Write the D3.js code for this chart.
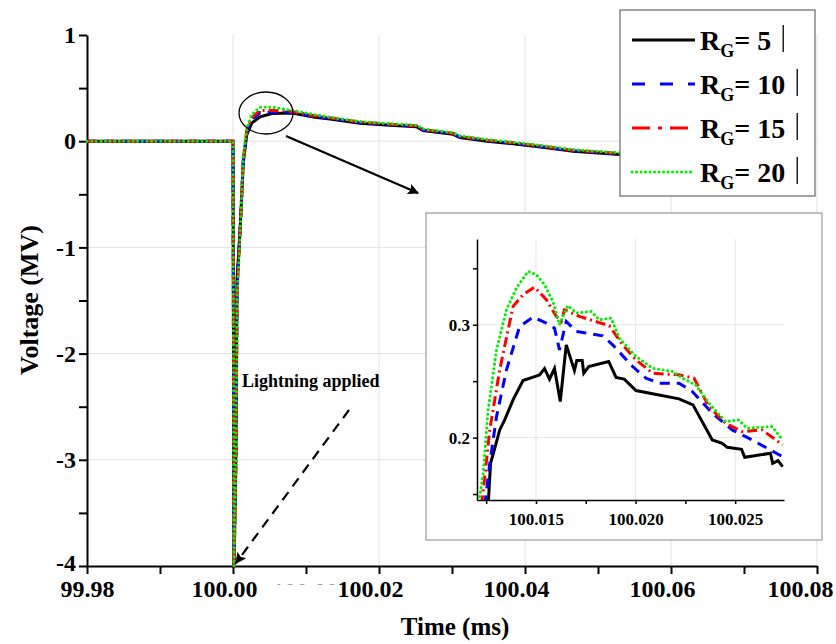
<!DOCTYPE html>
<html>
<head>
<meta charset="utf-8">
<script src="https://cdnjs.cloudflare.com/ajax/libs/d3/7.8.5/d3.min.js"></script>
<style>
    body { margin: 0; background: #fff; }
    svg text { font-family: "Liberation Serif", "Times New Roman", serif; font-weight: bold; }
    .grid line { stroke: #e2e2e2; stroke-width: 1; }
</style>
</head>
<body>
<div id="chart"></div>
<script>
// main curves (time in ms, voltage in MV)
const mainTime = [99.98, 100.0, 100.00014, 100.00041, 100.00055, 100.00096, 100.00141, 100.00188,
    100.00256, 100.0037, 100.00534, 100.00808, 100.01123, 100.01329, 100.0174, 100.02151,
    100.0252, 100.02603, 100.03014, 100.0311, 100.0348, 100.03836, 100.04301, 100.04658,
    100.05205, 100.05575];
const mainRG5 = [0, 0, -4, -2.9, -1.3, -0.85, -0.2, 0.06, 0.17, 0.23, 0.26, 0.265, 0.225, 0.21,
    0.17, 0.15, 0.135, 0.10, 0.065, 0.035, 0.0, -0.025, -0.062, -0.095, -0.12, -0.14];
const mainRG10 = [0, 0, -4, -2.95, -1.4, -0.85, -0.18, 0.08, 0.2, 0.27, 0.275, 0.27, 0.235, 0.215,
    0.175, 0.155, 0.14, 0.105, 0.07, 0.04, 0.005, -0.02, -0.057, -0.09, -0.115, -0.135];
const mainRG15 = [0, 0, -4, -3.0, -1.45, -0.87, -0.16, 0.1, 0.22, 0.29, 0.29, 0.28, 0.24, 0.22,
    0.18, 0.16, 0.145, 0.11, 0.075, 0.045, 0.01, -0.015, -0.052, -0.085, -0.11, -0.13];
const mainRG20 = [0, 0, -4, -3.0, -1.5, -0.9, -0.15, 0.12, 0.25, 0.32, 0.32, 0.29, 0.25, 0.225,
    0.185, 0.165, 0.15, 0.115, 0.08, 0.05, 0.015, -0.01, -0.047, -0.08, -0.105, -0.125];

// zoomed inset curves
const insetTimeRG5 = [100.0126, 100.01272, 100.01293, 100.01318, 100.01343, 100.01385, 100.01435,
    100.01493, 100.01518, 100.01543, 100.01568, 100.01593, 100.01622, 100.01652, 100.01693,
    100.01705, 100.01732, 100.0174, 100.01765, 100.01865, 100.01902, 100.01943, 100.02002,
    100.02085, 100.02218, 100.02288, 100.02385, 100.02435, 100.0246, 100.02532, 100.02548,
    100.02677, 100.02688, 100.02715, 100.02738];
const insetRG5 = [0.14, 0.1772, 0.1905, 0.2068, 0.2157, 0.2334, 0.2506, 0.2541, 0.2556, 0.2612,
    0.2518, 0.2612, 0.232, 0.2822, 0.2595, 0.2683, 0.2683, 0.2571, 0.263, 0.2675, 0.2533, 0.2518,
    0.2417, 0.2388, 0.2343, 0.229, 0.1979, 0.195, 0.1914, 0.1896, 0.1825, 0.1861, 0.1772, 0.1796,
    0.1743];
const insetTimeRG10 = [100.01243, 100.01268, 100.01302, 100.01352, 100.01418, 100.01485, 100.01552,
    100.01593, 100.01618, 100.01652, 100.01702, 100.01835, 100.01885, 100.01985, 100.02052,
    100.02118, 100.02218, 100.02285, 100.02385, 100.02485, 100.02585, 100.02738];
const insetRG10 = [0.14, 0.177, 0.2186, 0.2601, 0.2985, 0.3068, 0.3015, 0.297, 0.2778, 0.303,
    0.2941, 0.2902, 0.2822, 0.263, 0.2527, 0.2482, 0.2482, 0.2408, 0.2216, 0.2068, 0.1979, 0.1831];
const insetTimeRG15 = [100.01227, 100.01243, 100.01268, 100.01318, 100.01385, 100.01435, 100.01493,
    100.01552, 100.01602, 100.01627, 100.01643, 100.01718, 100.01868, 100.01935, 100.02002,
    100.02085, 100.02218, 100.02293, 100.02368, 100.02452, 100.02535, 100.02635, 100.02738];
const insetRG15 = [0.14, 0.1654, 0.2068, 0.2601, 0.3163, 0.3266, 0.3334, 0.3222, 0.3074, 0.303,
    0.3133, 0.3074, 0.2991, 0.2822, 0.2689, 0.2571, 0.2556, 0.2527, 0.2275, 0.2127, 0.2053, 0.2068,
    0.1935];
const insetTimeRG20 = [100.01218, 100.01235, 100.0126, 100.01302, 100.01352, 100.01402, 100.0146,
    100.01502, 100.01543, 100.01585, 100.01618, 100.01635, 100.0166, 100.01702, 100.01777,
    100.01818, 100.01877, 100.01918, 100.02002, 100.02085, 100.02185, 100.02235, 100.02302,
    100.02368, 100.02452, 100.02518, 100.0256, 100.02685, 100.02738];
const insetRG20 = [0.1476, 0.1683, 0.2246, 0.2778, 0.3133, 0.3325, 0.3473, 0.3444, 0.3355, 0.3207,
    0.3, 0.3074, 0.3169, 0.3104, 0.3118, 0.3044, 0.3059, 0.2882, 0.2719, 0.2615, 0.2586, 0.2527,
    0.2467, 0.2305, 0.2142, 0.2157, 0.2083, 0.2098, 0.1979];

const seriesNames = ["5", "10", "15", "20"];
const xTicks = [99.98, 99.99, 100.0, 100.01, 100.02, 100.03, 100.04, 100.05, 100.06, 100.07, 100.08];
const yTicks = [-4, -3.5, -3, -2.5, -2, -1.5, -1, -0.5, 0, 0.5, 1];
const insetXTicks = [100.0125, 100.015, 100.0175, 100.02, 100.0225, 100.025];
const insetYTicks = [0.15, 0.2, 0.25, 0.3, 0.35];

const styles = [
    { color: "#000000", dash: null, legendDash: null, cap: "butt" },
    { color: "#0000ff", dash: "10,7", legendDash: "13,15", cap: "butt" },
    { color: "#ff0000", dash: "10,4,2,4", legendDash: "18,8,4,8", cap: "butt" },
    { color: "#00ee00", dash: "0.1,4.5", legendDash: "0.1,4.4", cap: "round" }
];

function zip(xs, ys) {
    return xs.map((t, i) => ({ t: t, v: ys[i] }));
}

function drawChart() {
    const width = 836, height = 644;

    let svg = d3.select("#chart").
    append("svg").
    attr("width", width).
    attr("height", height);

    let x = d3.scaleLinear().domain([99.98, 100.08]).range([87, 817]);
    let y = d3.scaleLinear().domain([-4, 1]).range([566, 35]);

    // grid
    let grid = svg.append("g").attr("class", "grid");
    grid.selectAll(".gx").
    data(xTicks.filter((d, i) => i % 2 == 0 && i > 0)).
    enter().
    append("line").
    attr("x1", d => x(d)).attr("x2", d => x(d)).
    attr("y1", y(1)).attr("y2", y(-4));
    grid.selectAll(".gy").
    data([-3, -2, -1, 0]).
    enter().
    append("line").
    attr("x1", x(99.98)).attr("x2", x(100.08)).
    attr("y1", d => y(d)).attr("y2", d => y(d));

    // axes
    let xAxis = svg.append("g").
    attr("transform", "translate(0," + y(-4) + ")").
    call(d3.axisBottom(x).
    tickValues(xTicks).
    tickFormat((d, i) => i % 2 == 0 ? d.toFixed(2) : "").
    tickSize(8).
    tickSizeOuter(0));
    xAxis.selectAll("text").
    attr("font-size", 24).
    attr("fill", "#000").
    attr("dy", "0.82em").
    attr("dx", (d, i) => i == 0 ? 0 : (i == xTicks.length - 1 ? -17 : -9));

    let yAxis = svg.append("g").
    attr("transform", "translate(" + x(99.98) + ",0)").
    call(d3.axisLeft(y).
    tickValues(yTicks).
    tickFormat(d => Number.isInteger(d) ? d3.format("d")(d).replace("−", "-") : "").
    tickSize(8).
    tickSizeOuter(0));
    yAxis.selectAll("text").
    attr("font-size", 24).
    attr("fill", "#000").
    attr("dy", d => d == -4 ? "0.2em" : "0.32em");

    svg.selectAll(".domain, .tick line").
    attr("stroke", "#000").
    attr("stroke-width", 2);

    // ghost label behind axis
    svg.append("clipPath").attr("id", "ghost").
    append("rect").attr("x", 270).attr("y", 580).attr("width", 70).attr("height", 5);
    svg.append("text").
    attr("clip-path", "url(#ghost)").
    attr("x", 305).attr("y", 599).
    attr("text-anchor", "middle").
    attr("font-size", 24).
    attr("fill", "#999").
    text("100.00");

    svg.append("text").
    attr("x", 455).attr("y", 635).
    attr("text-anchor", "middle").
    attr("font-size", 25).
    text("Time (ms)");

    svg.append("text").
    attr("transform", "translate(38,300) rotate(-90)").
    attr("text-anchor", "middle").
    attr("font-size", 26).
    text("Voltage (MV)");

    // main curves
    let line = d3.line().x(d => x(d.t)).y(d => y(d.v));
    let mainSets = [mainRG5, mainRG10, mainRG15, mainRG20];
    mainSets.forEach((vals, i) => {
        svg.append("path").
        datum(zip(mainTime, vals)).
        attr("d", line).
        attr("fill", "none").
        attr("stroke", styles[i].color).
        attr("stroke-width", 3).
        attr("stroke-linecap", styles[i].cap).
        attr("stroke-dasharray", styles[i].dash);
    });

    // annotations
    svg.append("ellipse").
    attr("cx", 266).attr("cy", 113).
    attr("rx", 27).attr("ry", 21).
    attr("fill", "none").
    attr("stroke", "#000").
    attr("stroke-width", 1.3);

    let defs = svg.append("defs");
    defs.append("marker").
    attr("id", "arrow").
    attr("viewBox", "0 0 10 10").
    attr("refX", 9).attr("refY", 5).
    attr("markerWidth", 6).attr("markerHeight", 5).
    attr("markerUnits", "strokeWidth").
    attr("orient", "auto").
    append("path").
    attr("d", "M0,0 L10,5 L0,10 L2,5 Z").
    attr("fill", "#000");

    svg.append("line").
    attr("x1", 286).attr("y1", 136).
    attr("x2", 418).attr("y2", 193).
    attr("stroke", "#000").
    attr("stroke-width", 2.2).
    attr("marker-end", "url(#arrow)");

    svg.append("line").
    attr("x1", 349).attr("y1", 410).
    attr("x2", 236).attr("y2", 563).
    attr("stroke", "#000").
    attr("stroke-width", 2.2).
    attr("stroke-dasharray", "10,7").
    attr("marker-end", "url(#arrow)");

    svg.append("text").
    attr("x", 242).attr("y", 387).
    attr("font-size", 18).
    text("Lightning applied");

    // legend
    let legend = svg.append("g");
    legend.append("rect").
    attr("x", 620).attr("y", 10).
    attr("width", 195).attr("height", 186).
    attr("fill", "#fff").
    attr("stroke", "#666").
    attr("stroke-width", 1.2);

    let items = legend.selectAll(".item").
    data(seriesNames).
    enter().
    append("g").
    attr("transform", (d, i) => "translate(0," + (40 + i * 44) + ")");

    items.append("line").
    attr("x1", 632).attr("x2", 695).
    attr("stroke", (d, i) => styles[i].color).
    attr("stroke-width", 3).
    attr("stroke-linecap", (d, i) => styles[i].cap).
    attr("stroke-dasharray", (d, i) => styles[i].legendDash);

    let labels = items.append("text").
    attr("x", 700).attr("y", 10).
    attr("font-size", 28);
    labels.append("tspan").text("R");
    labels.append("tspan").attr("dy", 7).attr("font-size", 18).text("G");
    labels.append("tspan").attr("dy", -7).text(d => "= " + d);

    items.each(function () {
        let g = d3.select(this);
        let w = g.select("text").node().getComputedTextLength();
        g.append("line").
        attr("x1", 700 + w + 12).attr("x2", 700 + w + 12).
        attr("y1", -15).attr("y2", 12).
        attr("stroke", "#000").
        attr("stroke-width", 1.3);
    });

    // inset
    let inset = svg.append("g");
    inset.append("rect").
    attr("x", 426).attr("y", 213).
    attr("width", 396).attr("height", 327).
    attr("fill", "#fff").
    attr("stroke", "#999").
    attr("stroke-width", 1.2);

    let ix = d3.scaleLinear().domain([100.01204, 100.02745]).range([477, 784]);
    let iy = d3.scaleLinear().domain([0.1447, 0.376]).range([500, 239]);

    inset.selectAll(".igx").
    data([100.015, 100.02, 100.025]).
    enter().
    append("line").
    attr("x1", d => ix(d)).attr("x2", d => ix(d)).
    attr("y1", 239).attr("y2", 500).
    attr("stroke", "#e6e6e6");
    inset.selectAll(".igy").
    data([0.2, 0.3]).
    enter().
    append("line").
    attr("x1", 477).attr("x2", 784).
    attr("y1", d => iy(d)).attr("y2", d => iy(d)).
    attr("stroke", "#e6e6e6");

    inset.append("clipPath").attr("id", "insetClip").
    append("rect").attr("x", 477).attr("y", 239).attr("width", 307).attr("height", 261);

    let iline = d3.line().x(d => ix(d.t)).y(d => iy(d.v));
    let insetSets = [
        [insetTimeRG5, insetRG5],
        [insetTimeRG10, insetRG10],
        [insetTimeRG15, insetRG15],
        [insetTimeRG20, insetRG20]
    ];
    insetSets.forEach((s, i) => {
        inset.append("path").
        datum(zip(s[0], s[1])).
        attr("clip-path", "url(#insetClip)").
        attr("d", iline).
        attr("fill", "none").
        attr("stroke", styles[i].color).
        attr("stroke-width", 3).
        attr("stroke-linecap", styles[i].cap).
        attr("stroke-dasharray", styles[i].dash);
    });

    let ixAxis = inset.append("g").
    attr("transform", "translate(0,500)").
    call(d3.axisBottom(ix).
    tickValues(insetXTicks).
    tickFormat(d => [100.015, 100.02, 100.025].some(v => Math.abs(v - d) < 1e-9) ? d.toFixed(3) : "").
    tickSize(4).
    tickSizeOuter(0));
    ixAxis.selectAll("text").attr("font-size", 17).attr("fill", "#000").attr("dy", "1.05em");

    let iyAxis = inset.append("g").
    attr("transform", "translate(477,0)").
    call(d3.axisLeft(iy).
    tickValues(insetYTicks).
    tickFormat(d => (Math.abs(d - 0.2) < 1e-9 || Math.abs(d - 0.3) < 1e-9) ? d.toFixed(1) : "").
    tickSize(4).
    tickSizeOuter(0));
    iyAxis.selectAll("text").attr("font-size", 17).attr("fill", "#000");

    inset.selectAll(".domain, .tick line").
    attr("stroke", "#000").
    attr("stroke-width", 1.5);
}

drawChart();
</script>
</body>
</html>
